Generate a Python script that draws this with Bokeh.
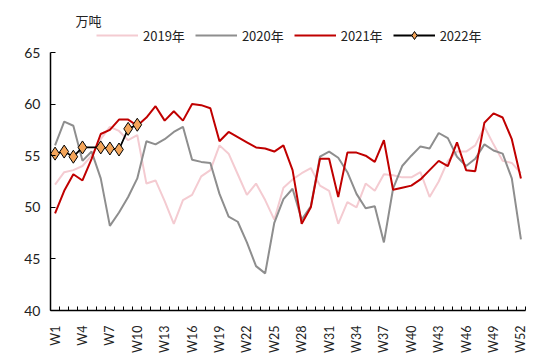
import math
from bokeh.plotting import figure
from bokeh.models import FixedTicker, Legend, LegendItem, Label, Range1d
from bokeh.embed import file_html
from bokeh.resources import INLINE

weeks = list(range(1, 53))
week_labels = ["W%d" % w for w in weeks]
tick_weeks = list(range(1, 53, 3))

y2019 = [52.2, 53.4, 53.6, 54.0, 55.0, 56.6, 57.8, 57.4, 56.5, 57.0,
         52.3, 52.6, 50.6, 48.4, 50.7, 51.2, 53.0, 53.6, 56.0, 55.2,
         53.2, 51.2, 52.3, 50.7, 48.8, 51.9, 52.7, 53.3, 53.8, 52.1,
         51.6, 48.4, 50.5, 50.0, 52.3, 51.6, 53.2, 53.1, 52.9, 52.9,
         53.4, 51.0, 52.5, 54.5, 55.4, 55.4, 56.0, 57.8, 56.1, 54.5,
         54.3, 53.3]
y2020 = [56.0, 58.3, 57.9, 54.5, 55.4, 52.8, 48.2, 49.5, 51.0, 52.8,
         56.4, 56.1, 56.6, 57.3, 57.8, 54.6, 54.4, 54.3, 51.3, 49.1,
         48.6, 46.6, 44.3, 43.6, 48.5, 50.8, 51.8, 48.8, 50.1, 54.9,
         55.4, 54.8, 53.4, 51.3, 49.9, 50.1, 46.6, 51.8, 54.0, 55.0,
         55.9, 55.7, 57.2, 56.7, 54.9, 54.0, 54.7, 56.1, 55.5, 55.2,
         52.8, 46.9]
y2021 = [49.4, 51.6, 53.2, 52.6, 54.7, 57.1, 57.5, 58.5, 58.5, 57.9,
         58.7, 59.8, 58.4, 59.3, 58.4, 60.0, 59.9, 59.6, 56.4, 57.3,
         56.8, 56.3, 55.8, 55.7, 55.4, 56.0, 53.6, 48.4, 50.0, 54.7,
         54.7, 51.0, 55.3, 55.3, 55.0, 54.4, 56.5, 51.7, 51.9, 52.1,
         52.7, 53.6, 54.5, 54.0, 56.3, 53.6, 53.5, 58.2, 59.1, 58.7,
         56.6, 52.8]
y2022 = [55.2, 55.4, 54.9, 55.8, None, 55.8, 55.7, 55.6, 57.6, 58.0]

x2022 = [w for w, v in zip(weeks, y2022) if v is not None]
v2022 = [v for v in y2022 if v is not None]

y_ticks = [40, 45, 50, 55, 60, 65]

FONT = "Lato"
FRAME_H = 302
PX_PER_UNIT = 10.32

p = figure(frame_width=475, frame_height=FRAME_H, output_backend="svg",
           toolbar_location=None,
           x_range=Range1d(0.5, 52.5),
           y_range=Range1d(40, 40 + FRAME_H / PX_PER_UNIT),
           min_border_left=50, min_border_right=16, min_border_top=8,
           min_border_bottom=38)
p.outline_line_color = None
p.xgrid.grid_line_color = None
p.ygrid.grid_line_color = None
p.background_fill_color = "white"

r19 = p.line(weeks, y2019, line_color="#F4CBD1", line_width=2)
r20 = p.line(weeks, y2020, line_color="#8E8E8E", line_width=2)
r21 = p.line(weeks, y2021, line_color="#C00000", line_width=2)
r22l = p.line(x2022, v2022, line_color="#000000", line_width=1.8)
r22m = p.scatter(x2022, v2022, marker="diamond", size=13,
                 fill_color="#F4A55A", line_color="#000000", line_width=1)

xa = p.xaxis[0]
xa.ticker = FixedTicker(ticks=tick_weeks,
                        minor_ticks=[w - 0.5 for w in weeks] + [52.5])
xa.major_label_overrides = {w: "W%d" % w for w in tick_weeks}
xa.major_label_orientation = math.pi / 2
xa.major_tick_line_color = None
xa.minor_tick_in = 4
xa.minor_tick_out = 0
xa.minor_tick_line_color = "black"
xa.axis_line_color = "black"
xa.axis_line_width = 1.5
xa.major_label_text_font = FONT
xa.major_label_text_font_size = "12.5px"
xa.major_label_text_color = "#222222"
xa.major_label_standoff = 9

ya = p.yaxis[0]
ya.ticker = FixedTicker(ticks=y_ticks, minor_ticks=[])
ya.bounds = (y_ticks[0], y_ticks[-1])
ya.major_tick_in = 5
ya.major_tick_out = 0
ya.major_tick_line_color = "black"
ya.minor_tick_line_color = None
ya.axis_line_color = "black"
ya.axis_line_width = 1.5
ya.major_label_text_font = FONT
ya.major_label_text_font_size = "14px"
ya.major_label_text_color = "#222222"
ya.major_label_standoff = 10

legend = Legend(items=[
    LegendItem(label="2019年", renderers=[r19]),
    LegendItem(label="2020年", renderers=[r20]),
    LegendItem(label="2021年", renderers=[r21]),
    LegendItem(label="2022年", renderers=[r22l, r22m]),
], orientation="horizontal", location=(46, 265),
    glyph_width=42, glyph_height=20, label_standoff=5, spacing=10,
    padding=2, border_line_color=None, background_fill_alpha=0,
    label_text_font="Noto Sans CJK SC", label_text_font_size="13px",
    label_text_color="#222222")
p.add_layout(legend, "center")

unit = Label(x=38, y=290, x_units="screen", y_units="screen", text="万吨",
             text_font="Noto Sans CJK SC", text_font_size="13px",
             text_align="center", text_baseline="middle",
             text_color="#222222")
p.add_layout(unit)

open("out.html", "w").write(file_html(p, INLINE))
